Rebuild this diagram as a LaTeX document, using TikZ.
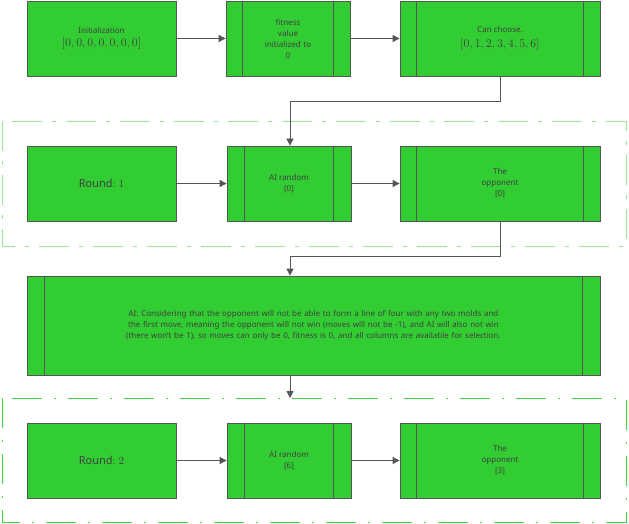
\documentclass[tikz,border=0pt]{standalone}
\usepackage{fontspec}
\setmainfont{Noto Sans}
\usetikzlibrary{calc,arrows.meta}
\definecolor{boxgreen}{RGB}{50,205,50}
\definecolor{edgegray}{RGB}{85,85,85}
\definecolor{paleline}{RGB}{150,235,150}
\definecolor{brightline}{RGB}{70,215,70}
\tikzset{every picture/.style={line width=0.75pt}}
\tikzset{
  box/.style={draw=edgegray,fill=boxgreen,text=black!75,align=center,font=\fontsize{8}{11}\selectfont,inner sep=1pt},
  link/.style={draw=edgegray,-{Triangle[length=7pt,width=7pt]}},
}
% side bars of a process box
\newcommand{\sidebars}[2]{%
  \draw[edgegray] ($(#1.north west)+(#2,0)$) -- ($(#1.south west)+(#2,0)$);
  \draw[edgegray] ($(#1.north east)-(#2,0)$) -- ($(#1.south east)-(#2,0)$);}

\begin{document}
\begin{tikzpicture}[x=1pt,y=1pt,yscale=-1]
\useasboundingbox (0,0) rectangle (629,524);

%Dashed frames
\draw[paleline,dash pattern=on 30pt off 10pt on 4pt off 10pt] (2,121) rectangle (626,246);
\draw[brightline,dash pattern=on 30pt off 12pt on 2pt off 12pt] (2,398) rectangle (626,522);

%Row one
\node[box,minimum width=149pt,minimum height=75pt] (init) at (101.5,38.5) {Initialization\\[2pt]{\large$[0,0,0,0,0,0,0]$}};
\node[box,minimum width=124pt,minimum height=75pt,text width=80pt] (fit) at (288,38.5) {fitness\\value\\initialized to\\0};
\node[box,minimum width=200pt,minimum height=75pt] (choose) at (500,38.5) {Can choose.\\[4pt]{\large$[0,1,2,3,4,5,6]$}};
\sidebars{fit}{17}
\sidebars{choose}{17}

%Row two
\node[box,minimum width=149pt,minimum height=75pt,font=\fontsize{11}{13}\selectfont] (round1) at (101.5,183.5) {Round$:1$};
\node[box,minimum width=124pt,minimum height=75pt] (ai1) at (289,183.5) {AI random\\{[0]}};
\node[box,minimum width=200pt,minimum height=75pt] (opp1) at (500,183.5) {The\\opponent\\{[0]}};
\sidebars{ai1}{18}
\sidebars{opp1}{17}

%Explanation
\node[box,minimum width=573pt,minimum height=99pt,text width=520pt] (note) at (313.5,325.5) {AI: Considering that the opponent will not be able to form a line of four with any two molds and the first move, meaning the opponent will not win (moves will not be -1), and AI will also not win (there won't be 1), so moves can only be 0, fitness is 0, and all columns are available for selection.\\[10pt]};
\sidebars{note}{18}

%Row three
\node[box,minimum width=149pt,minimum height=75pt,font=\fontsize{11}{13}\selectfont] (round2) at (101.5,460.5) {Round$:2$};
\node[box,minimum width=124pt,minimum height=75pt] (ai2) at (289,460.5) {AI random\\{[6]}};
\node[box,minimum width=200pt,minimum height=75pt] (opp2) at (500,460.5) {The\\opponent\\{[3]}};
\sidebars{ai2}{18}
\sidebars{opp2}{17}

\coordinate (frametop) at (290,398);

%Connectors
\draw[link] (init) -- (fit);
\draw[link] (fit) -- (choose);
\draw[link] (choose.south) |- (290,101) -- (ai1.north -| 290,0);
\draw[link] (round1) -- (ai1);
\draw[link] (ai1) -- (opp1);
\draw[link] (opp1.south) |- (290,256) -- (note.north -| 290,0);
\draw[link] (note.south -| frametop) -- (frametop);
\draw[link] (round2) -- (ai2);
\draw[link] (ai2) -- (opp2);
\end{tikzpicture}
\end{document}
